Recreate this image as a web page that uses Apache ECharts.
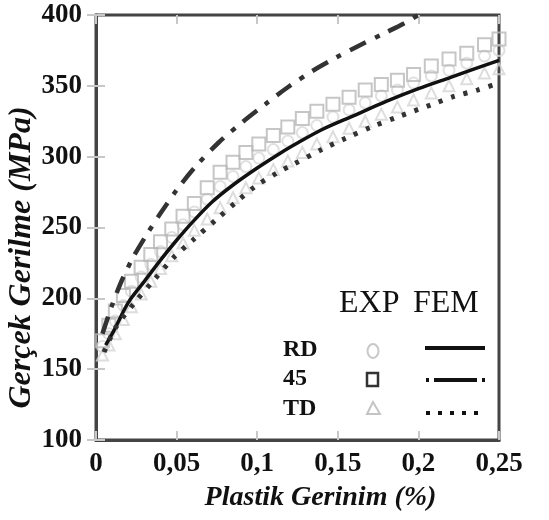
<!DOCTYPE html>
<html><head><meta charset="utf-8">
<script src="https://cdn.jsdelivr.net/npm/echarts@6/dist/echarts.min.js"></script>
<style>html,body{margin:0;padding:0;background:#fff}#c{width:549px;height:520px}</style>
</head><body><div id="c"></div>
<script>
// ---- data ----
const xTicks = [0, 0.05, 0.1, 0.15, 0.2, 0.25];
const yTicks = [100, 150, 200, 250, 300, 350, 400];
const xLabel = 'Plastik Gerinim (%)';
const yLabel = 'Gerçek Gerilme (MPa)';

// FEM curves
const femRDStrain = [0.006, 0.011, 0.02, 0.03, 0.04, 0.05, 0.06, 0.072, 0.085, 0.1, 0.115, 0.1255, 0.14, 0.16, 0.18, 0.2, 0.22, 0.25];
const femRD       = [167, 177, 197, 212, 227, 241, 254, 268, 280, 292, 303, 310, 319, 329, 339, 348, 356, 368];
const fem45Strain = [0.004, 0.0093, 0.0154, 0.0226, 0.0309, 0.04, 0.0504, 0.0617, 0.0761, 0.0915, 0.105, 0.119, 0.135, 0.149, 0.1625, 0.1786, 0.191, 0.2];
const fem45       = [175, 193, 211, 228, 244, 260, 277, 293, 310, 325, 337, 349, 361, 370, 378, 387, 394, 400];
const femTDStrain = [0.005, 0.012, 0.0247, 0.036, 0.0483, 0.06, 0.075, 0.087, 0.0988, 0.113, 0.1214, 0.14, 0.155, 0.171, 0.187, 0.2088, 0.222, 0.2366, 0.25];
const femTD       = [162, 179, 198, 213, 229, 241, 256, 268, 279, 289, 294, 305, 313, 321, 328, 337, 342.5, 347, 352];

// EXP markers
const expStrain = [0.004, 0.008, 0.012, 0.017, 0.022, 0.028, 0.034, 0.04, 0.047, 0.054, 0.061, 0.069, 0.077, 0.085, 0.093, 0.101, 0.11, 0.119, 0.128, 0.137, 0.147, 0.157, 0.167, 0.177, 0.187, 0.197, 0.208, 0.219, 0.23, 0.241, 0.25];
const exp45 = [170, 181, 191, 202, 212, 222, 231, 240, 249, 258, 267, 278, 289, 296, 303, 309, 315, 321, 327, 332, 337, 342, 347, 351, 354, 358, 364, 369, 373, 379, 383];
const expRD = [166, 175, 184, 195, 205, 215, 224, 233, 243, 252, 261, 270, 279, 286, 293, 299, 305, 311, 317, 322, 328, 333, 338, 343, 347, 352, 357, 361, 366, 371, 375];
const expTD = [160, 167, 175, 185, 194, 203, 212, 221, 230, 239, 248, 256, 264, 271, 278, 285, 291, 297, 303, 309, 314, 320, 325, 330, 335, 340, 345, 350, 355, 359, 362];

const legendRows = ['RD', '45', 'TD'];
const legendCols = ['EXP', 'FEM'];

const zip = (xs, ys) => xs.map((x, i) => [x, ys[i]]);
const serif = '"Liberation Serif","DejaVu Serif",serif';
const fmtX = v => String(+v.toFixed(2)).replace('.', ',');

const chart = echarts.init(document.getElementById('c'));
const tickStyle = { show: true, inside: true, length: 9, lineStyle: { color: '#c8c8c8', width: 2 } };
const axisLabelX = { color: '#111', fontFamily: serif, fontWeight: 'bold', fontSize: 27, margin: 11, formatter: fmtX };
const axisLabelY = { color: '#111', fontFamily: serif, fontWeight: 'bold', fontSize: 27, margin: 14 };

chart.setOption({
  animation: false,
  grid: { left: 96, right: 50, top: 15, bottom: 80, containLabel: false, outerBoundsMode: 'none',
          show: true, borderColor: '#444', borderWidth: 3, backgroundColor: '#fff' },
  xAxis: [{
    type: 'value', min: xTicks[0], max: xTicks[xTicks.length - 1], interval: 0.05,
    axisLine: { show: true, lineStyle: { color: '#444', width: 3 } },
    axisTick: tickStyle, splitLine: { show: false }, axisLabel: axisLabelX,
    name: xLabel, nameLocation: 'middle', nameGap: 44,
    nameTextStyle: { fontFamily: serif, fontStyle: 'italic', fontWeight: 'bold', fontSize: 28, color: '#111', padding: [0, 0, 0, 46] }
  }, {
    type: 'value', position: 'top', min: 0, max: 0.25, interval: 0.05,
    axisLine: { show: false }, axisTick: tickStyle, axisLabel: { show: false }, splitLine: { show: false }
  }],
  yAxis: [{
    type: 'value', min: yTicks[0], max: yTicks[yTicks.length - 1], interval: 50,
    axisLine: { show: true, lineStyle: { color: '#444', width: 3 } },
    axisTick: tickStyle, splitLine: { show: false }, axisLabel: axisLabelY,
    name: yLabel, nameLocation: 'middle', nameGap: 58, nameRotate: 90, nameMoveOverlap: false,
    nameTextStyle: { fontFamily: serif, fontStyle: 'italic', fontWeight: 'bold', fontSize: 32, color: '#111', padding: [0, 60, 0, 0] }
  }, {
    type: 'value', position: 'right', min: 100, max: 400, interval: 50,
    axisLine: { show: false }, axisTick: tickStyle, axisLabel: { show: false }, splitLine: { show: false }
  }],
  series: [
    { type: 'scatter', name: 'RD EXP', data: zip(expStrain, expRD), symbol: 'circle', symbolSize: 11,
      itemStyle: { color: 'rgba(255,255,255,0)', borderColor: '#d8d8d8', borderWidth: 2 }, z: 2 },
    { type: 'scatter', name: 'TD EXP', data: zip(expStrain, expTD), symbol: 'triangle', symbolSize: 11,
      itemStyle: { color: 'rgba(255,255,255,0)', borderColor: '#d4d4d4', borderWidth: 2 }, z: 2 },
    { type: 'scatter', name: '45 EXP', data: zip(expStrain, exp45), symbol: 'rect', symbolSize: 13,
      itemStyle: { color: 'rgba(255,255,255,0)', borderColor: '#b8b8b8', borderWidth: 2 }, z: 3 },
    { type: 'line', name: 'RD FEM', data: zip(femRDStrain, femRD), smooth: 0.3, showSymbol: false, symbol: 'none',
      lineStyle: { color: '#111', width: 3.5 }, z: 5 },
    { type: 'line', name: '45 FEM', data: zip(fem45Strain, fem45), smooth: 0.3, showSymbol: false, symbol: 'none',
      lineStyle: { color: '#333', width: 4.5, type: [18, 10, 5, 10] }, z: 5 },
    { type: 'line', name: 'TD FEM', data: zip(femTDStrain, femTD), smooth: 0.3, showSymbol: false, symbol: 'none',
      lineStyle: { color: '#333', width: 5, type: [4, 9] }, z: 5 }
  ],
  graphic: [
    { type: 'text', left: 339, top: 288, style: { text: legendCols[0], font: '32px ' + serif, fill: '#111' } },
    { type: 'text', left: 413, top: 288, style: { text: legendCols[1], font: '32px ' + serif, fill: '#111' } },
    { type: 'text', left: 283, top: 338, style: { text: legendRows[0], font: 'bold 24px ' + serif, fill: '#111' } },
    { type: 'text', left: 283, top: 367, style: { text: legendRows[1], font: 'bold 24px ' + serif, fill: '#111' } },
    { type: 'text', left: 283, top: 397, style: { text: legendRows[2], font: 'bold 24px ' + serif, fill: '#111' } },
    { type: 'ellipse', shape: { cx: 373, cy: 351, rx: 5.5, ry: 7 }, style: { fill: 'none', stroke: '#c8c8c8', lineWidth: 2 } },
    { type: 'rect', shape: { x: 367, y: 373, width: 11, height: 13 }, style: { fill: 'none', stroke: '#333', lineWidth: 2.5 } },
    { type: 'polygon', shape: { points: [[373, 402], [367, 414], [380, 414]] }, style: { fill: 'none', stroke: '#c4c4c4', lineWidth: 2 } },
    { type: 'line', shape: { x1: 425, y1: 348, x2: 485, y2: 348 }, style: { stroke: '#111', lineWidth: 4 } },
    { type: 'line', shape: { x1: 426, y1: 380, x2: 485, y2: 380 }, style: { stroke: '#111', lineWidth: 4, lineDash: [3, 5, 40, 0] } },
    { type: 'line', shape: { x1: 426, y1: 413, x2: 485, y2: 413 }, style: { stroke: '#111', lineWidth: 4, lineDash: [4, 8] } }
  ]
});
</script>
</body></html>
